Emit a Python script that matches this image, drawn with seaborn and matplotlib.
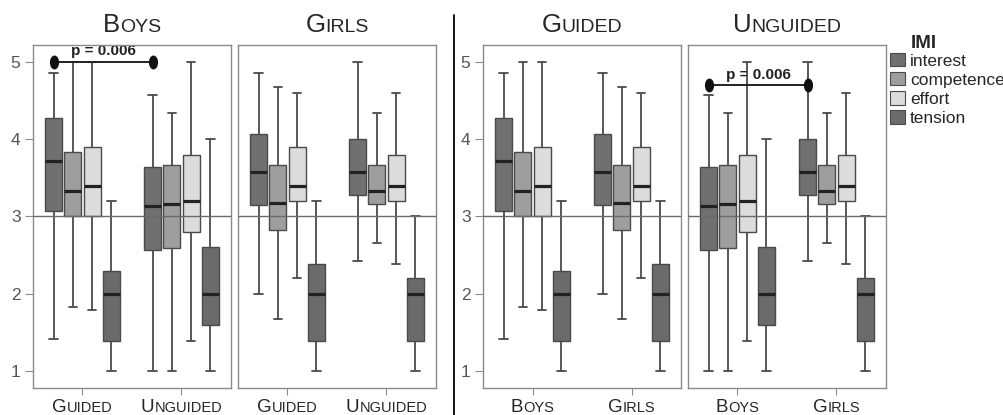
import pandas as pd
import seaborn as sns
import matplotlib
matplotlib.use("Agg")
import matplotlib.pyplot as plt
from matplotlib.lines import Line2D
from matplotlib.patches import Patch
from matplotlib.path import Path
from matplotlib.transforms import Affine2D
from matplotlib.offsetbox import TextArea, HPacker, AnnotationBbox

# IMI subscales, each box given as [low whisker, Q1, median, Q3, high whisker]
imi = ["interest", "competence", "effort", "tension"]
imi_colors = ["#707070", "#9e9e9e", "#dcdcdc", "#6b6b6b"]

boys_guided = [[1.42, 3.07, 3.72, 4.28, 4.86],
               [1.83, 3.00, 3.33, 3.83, 5.00],
               [1.79, 3.00, 3.40, 3.90, 5.00],
               [1.00, 1.39, 2.00, 2.29, 3.20]]
boys_unguided = [[1.00, 2.57, 3.14, 3.64, 4.57],
                 [1.00, 2.59, 3.16, 3.67, 4.34],
                 [1.39, 2.80, 3.20, 3.80, 5.00],
                 [1.00, 1.60, 2.00, 2.60, 4.00]]
girls_guided = [[2.00, 3.15, 3.58, 4.07, 4.86],
                [1.67, 2.83, 3.17, 3.67, 4.67],
                [2.20, 3.20, 3.40, 3.90, 4.60],
                [1.00, 1.39, 2.00, 2.39, 3.20]]
girls_unguided = [[2.43, 3.28, 3.58, 4.00, 5.00],
                  [2.66, 3.16, 3.33, 3.67, 4.34],
                  [2.39, 3.20, 3.40, 3.80, 4.60],
                  [1.00, 1.39, 2.00, 2.20, 3.00]]

genders = ["Boys", "Girls"]
conditions = ["Guided", "Unguided"]
p_label = "p = 0.006"

# long table for seaborn
rows = []
for gender, cond, stats in [("Boys", "Guided", boys_guided), ("Boys", "Unguided", boys_unguided),
                            ("Girls", "Guided", girls_guided), ("Girls", "Unguided", girls_unguided)]:
    for name, five in zip(imi, stats):
        for v in five:
            rows.append((gender, cond, name, v))
df = pd.DataFrame(rows, columns=["gender", "condition", "IMI", "score"])

sns.set_style("white")
plt.rcParams["font.family"] = ["Liberation Sans", "DejaVu Sans"]

W, H = 1004, 415
fig = plt.figure(figsize=(W / 100, H / 100), dpi=100)

# panel left edges in pixels
lefts = [33, 238, 483, 688]
pw, top_px, bot_px = 198, 45, 388
panels = [("Boys", "gender", "condition", conditions),
          ("Girls", "gender", "condition", conditions),
          ("Guided", "condition", "gender", genders),
          ("Unguided", "condition", "gender", genders)]

box_width = 0.78
frame_col = "#8a8a8a"
text_col = "#262626"


def small_caps(ax, word, xy, coords, big, small, valign):
    parts = [TextArea(word[0].upper(), textprops=dict(size=big, color=text_col)),
             TextArea(word[1:].upper(), textprops=dict(size=small, color=text_col))]
    box = HPacker(children=parts, align="baseline", pad=0, sep=0)
    ab = AnnotationBbox(box, xy, xycoords=coords, box_alignment=(0.5, valign),
                        frameon=False, pad=0, annotation_clip=False)
    ax.add_artist(ab)


ell = Path.unit_circle().transformed(Affine2D().scale(0.62, 1.0))
axes = []
for i, (title, fcol, xcol, order) in enumerate(panels):
    ax = fig.add_axes([lefts[i] / W, 1 - bot_px / H, pw / W, (bot_px - top_px) / H])
    axes.append(ax)
    sub = df[df[fcol] == title]
    sns.boxplot(data=sub, x=xcol, y="score", hue="IMI", order=order, hue_order=imi,
                palette=dict(zip(imi, imi_colors)), saturation=1, whis=(0, 100),
                width=box_width, gap=0.12, showfliers=False, legend=False,
                linecolor="#4a4a4a", linewidth=1.0,
                medianprops=dict(color="#222222", linewidth=2.3),
                whiskerprops=dict(linewidth=1.3), capprops=dict(linewidth=1.3),
                ax=ax)
    ax.axhline(3, color="#6a6a6a", lw=1.0, zorder=6)
    ax.set_ylim(0.78, 5.22)
    ax.set_xlim(-0.5, 1.5)
    ax.set_xlabel("")
    ax.set_ylabel("")
    for s in ax.spines.values():
        s.set_color(frame_col)
        s.set_linewidth(1.0)
    ax.tick_params(axis="x", bottom=True, length=5, color=frame_col, labelbottom=False)
    if i in (0, 2):
        ax.set_yticks([1, 2, 3, 4, 5])
        ax.tick_params(axis="y", left=True, length=6, color=frame_col,
                       labelcolor="#555555", labelsize=12.5, pad=3)
    else:
        ax.set_yticks([])
    small_caps(ax, title, (0.5, 1.022), "axes fraction", 18.5, 14, 0)
    for k, lab in enumerate(order):
        small_caps(ax, lab, (k, -0.033), ("data", "axes fraction"), 13.5, 10.5, 1)

# significance brackets between interest boxes
off = -box_width / 2 + box_width / 8
for ax, yb in [(axes[0], 5.0), (axes[3], 4.70)]:
    ax.plot([off, 1 + off], [yb, yb], color="#222222", lw=1.4, zorder=7,
            marker=ell, markersize=9, markerfacecolor="#111111", markeredgecolor="#111111")
    ax.text(0.5 + off, yb + 0.085, p_label, ha="center", va="baseline", fontsize=11,
            fontweight="bold", color="#222222", zorder=1)

# vertical separator between the two figure halves
fig.add_artist(Line2D([454.5 / W] * 2, [0, 1 - 15 / H], color="black", lw=1.3))

# legend
fig.text(911 / W, 1 - 48 / H, "IMI", fontsize=13.5, fontweight="bold", color=text_col)
handles = [Patch(facecolor=c, edgecolor="#4a4a4a", lw=0.8) for c in imi_colors]
fig.legend(handles, imi, loc="upper left", bbox_to_anchor=(890 / W, 1 - 53 / H),
           frameon=False, fontsize=12.5, handlelength=0.85, handleheight=0.8,
           handletextpad=0.3, labelspacing=0.2, borderpad=0, borderaxespad=0,
           labelcolor=text_col)

fig.savefig("out.png", dpi=100)
